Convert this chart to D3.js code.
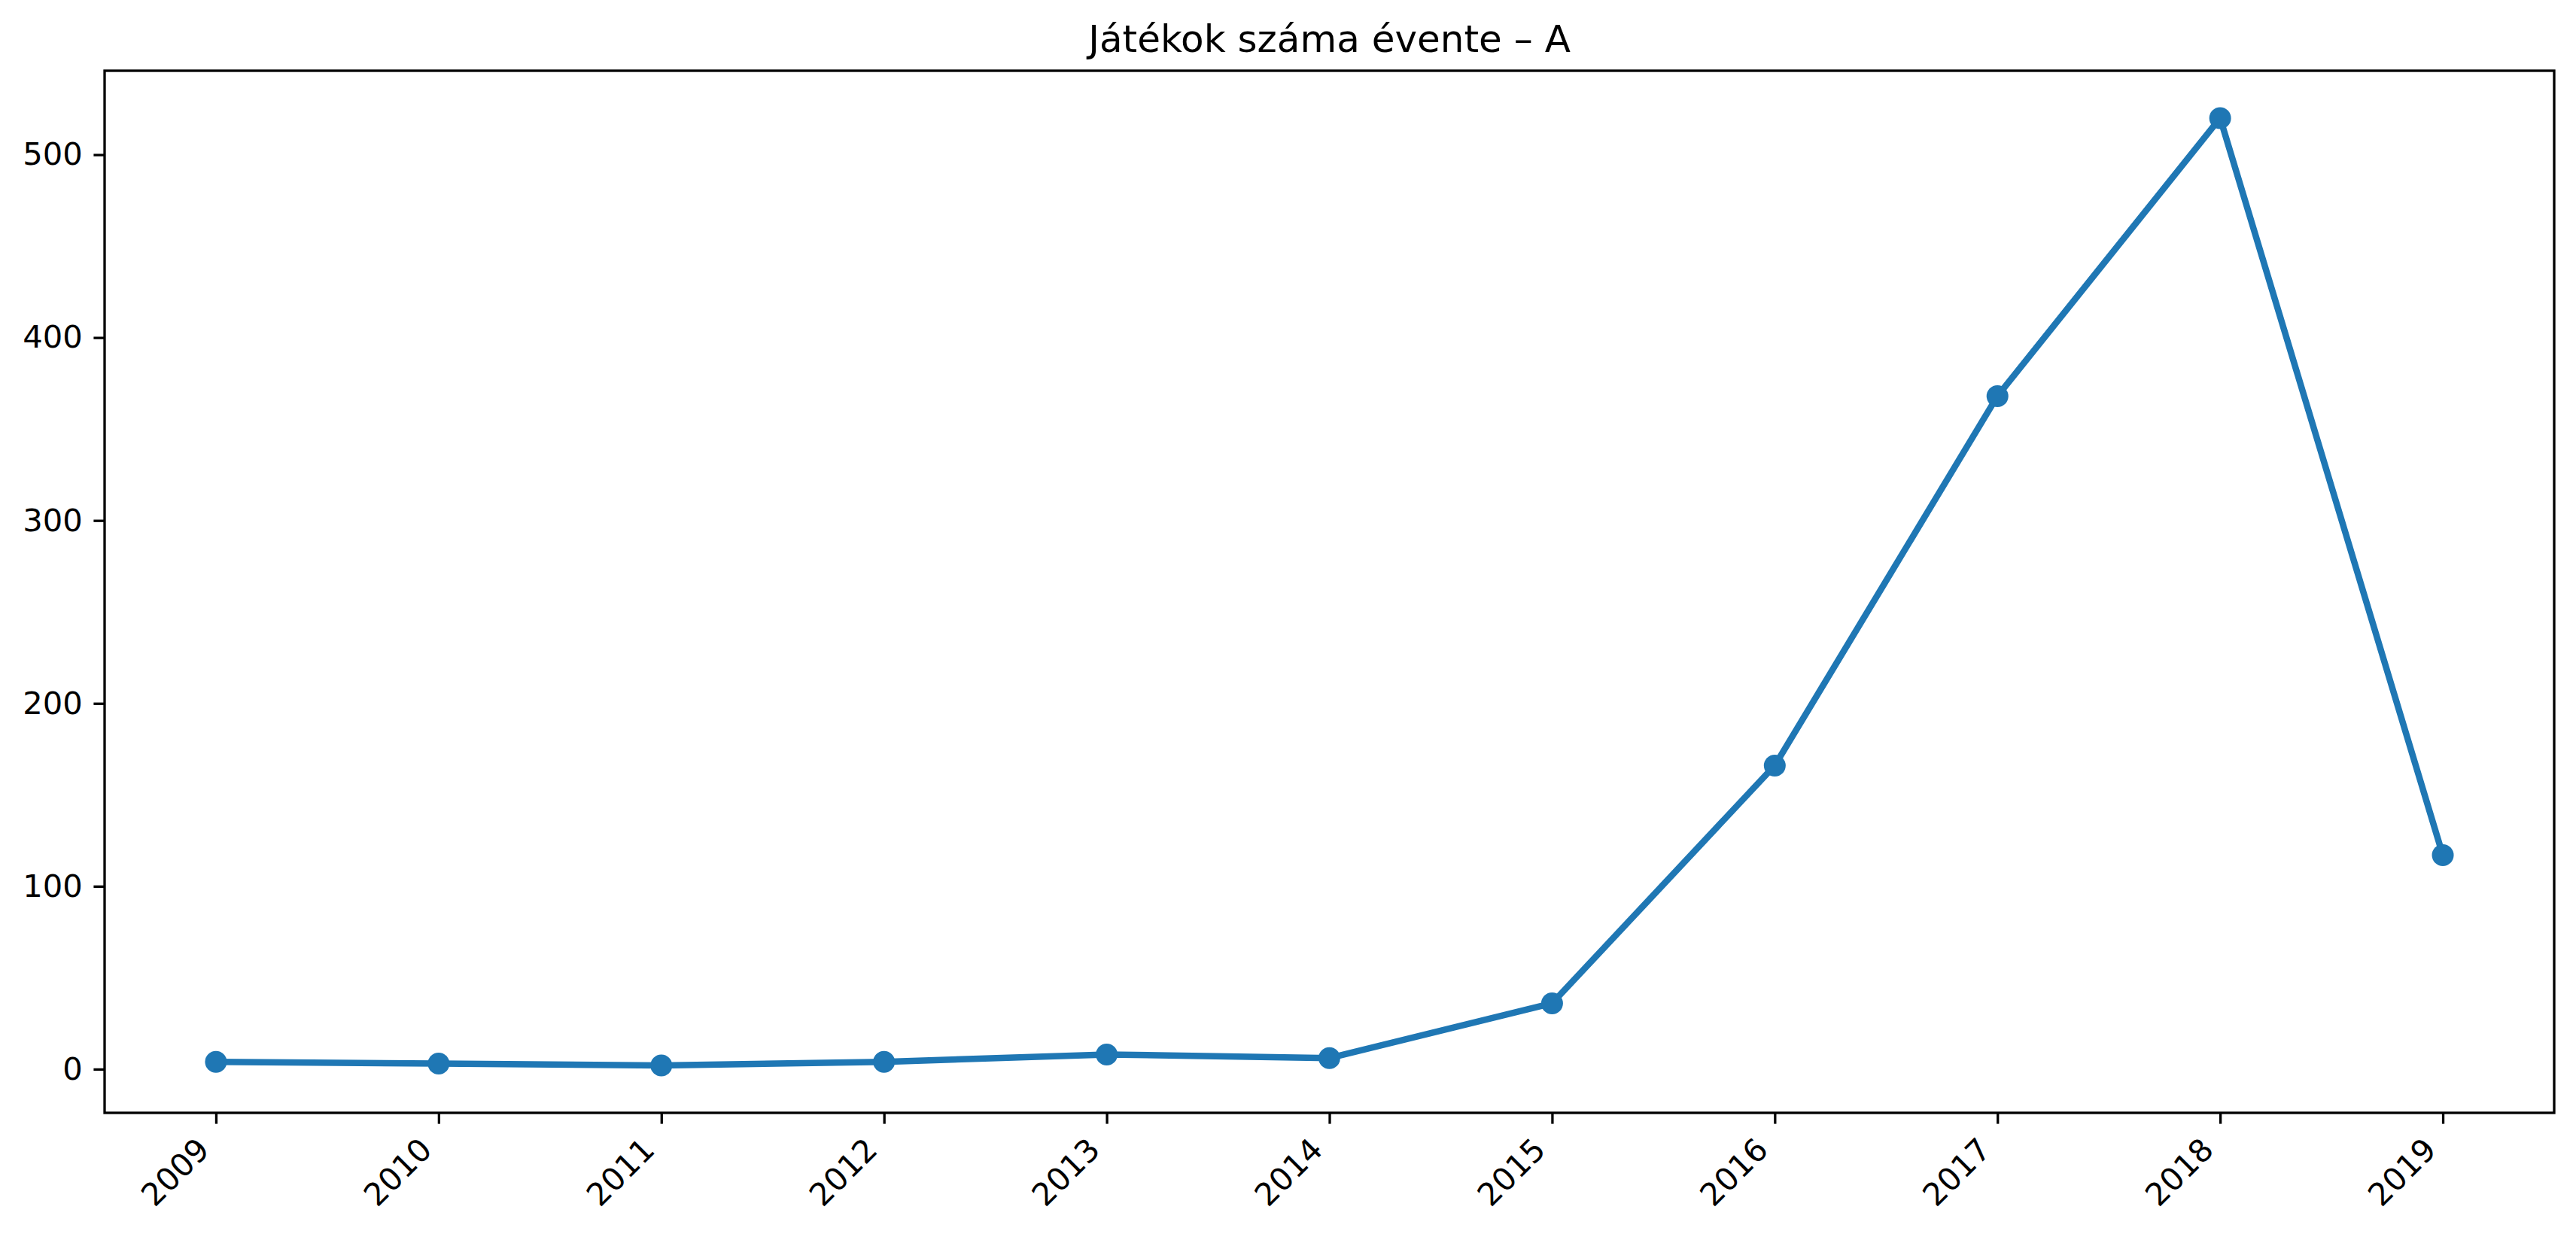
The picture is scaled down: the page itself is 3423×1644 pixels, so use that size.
<!DOCTYPE html>
<html>
<head>
<meta charset="utf-8">
<script src="https://cdn.jsdelivr.net/npm/d3@7"></script>
<style>
	body { margin: 0; background: #fff; }
	text { font-family: "DejaVu Sans", sans-serif; }
</style>
</head>
<body>
<div id="chart"></div>
<script>
// data
var years = [2009, 2010, 2011, 2012, 2013, 2014, 2015, 2016, 2017, 2018, 2019];
var games = [4, 3, 2, 4, 8, 6, 36, 166, 368, 520, 117];
var yTicks = [0, 100, 200, 300, 400, 500];
var chartTitle = "Játékok száma évente – A";

var W = 3423, H = 1644;
var margins = {top: 94, bottom: 165, left: 139, right: 29};
var width = W - margins.left - margins.right,
	height = H - margins.top - margins.bottom;

var tick = 14.6, pad = 14.6;

// matplotlib style 5% padding
var xPad = (d3.max(years) - d3.min(years)) * 0.05;
var yPad = (d3.max(games) - d3.min(games)) * 0.05;

var x = d3.scaleLinear()
	.domain([d3.min(years) - xPad, d3.max(years) + xPad])
	.range([0, width]);

var y = d3.scaleLinear()
	.domain([d3.min(games) - yPad, d3.max(games) + yPad])
	.range([height, 0]);

var svg = d3.select("#chart").append("svg")
	.attr("width", W)
	.attr("height", H);

var g = svg.append("g")
	.attr("transform", "translate(" + margins.left + "," + margins.top + ")");

// y axis
var yAxis = g.append("g")
	.call(d3.axisLeft(y).tickValues(yTicks).tickSize(tick).tickPadding(pad).tickFormat(d3.format("d")));
yAxis.select(".domain").remove();
yAxis.selectAll("line").attr("stroke", "#000").attr("stroke-width", 3.3);
yAxis.selectAll("text").attr("font-size", 41.7).attr("fill", "#000");

// x axis, labels turned 45 degrees
var xAxis = g.append("g")
	.attr("transform", "translate(0," + height + ")")
	.call(d3.axisBottom(x).tickValues(years).tickSize(tick).tickPadding(pad).tickFormat(d3.format("d")));
xAxis.select(".domain").remove();
xAxis.selectAll("line").attr("stroke", "#000").attr("stroke-width", 3.3);
xAxis.selectAll("text")
	.attr("font-size", 41.7)
	.attr("fill", "#000")
	.attr("x", 0)
	.attr("y", 0)
	.attr("dy", 0)
	.style("text-anchor", "end")
	.attr("transform", "translate(-7," + (tick + pad + 22.4) + ") rotate(-45)");

// line + markers
var line = d3.line()
	.x(function(d, i) { return x(years[i]); })
	.y(function(d) { return y(d); });

g.append("path")
	.datum(games)
	.attr("fill", "none")
	.attr("stroke", "#1f77b4")
	.attr("stroke-width", 8.5)
	.attr("stroke-linejoin", "round")
	.attr("stroke-linecap", "butt")
	.attr("d", line);

g.selectAll("circle")
	.data(games)
.enter().append("circle")
	.attr("cx", function(d, i) { return x(years[i]); })
	.attr("cy", function(d) { return y(d); })
	.attr("r", 14.5)
	.attr("fill", "#1f77b4");

// frame
g.append("rect")
	.attr("width", width)
	.attr("height", height)
	.attr("fill", "none")
	.attr("stroke", "#000")
	.attr("stroke-width", 3.3);

// title
g.append("text")
	.attr("x", width / 2)
	.attr("y", -25)
	.attr("text-anchor", "middle")
	.attr("font-size", 50)
	.attr("fill", "#000")
	.text(chartTitle);
</script>
</body>
</html>
